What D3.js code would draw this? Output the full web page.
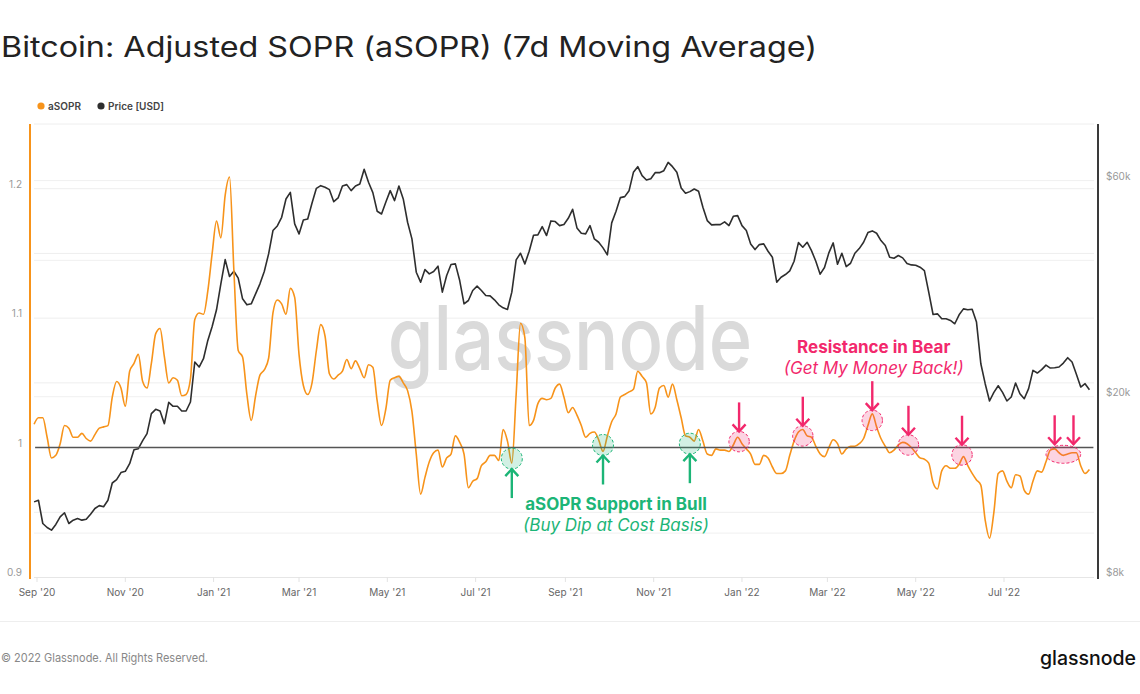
<!DOCTYPE html>
<html><head><meta charset="utf-8">
<script src="https://cdn.jsdelivr.net/npm/d3@7"></script>
<style>
html,body{margin:0;padding:0;background:#fff;}
svg{display:block;font-family:Inter,"Noto Sans",sans-serif;}
</style></head><body>
<svg id="chart" width="1140" height="694"></svg>
<script>
const dates = [
"2020-08-30","2020-09-02","2020-09-05","2020-09-08","2020-09-11","2020-09-14","2020-09-17","2020-09-20","2020-09-23","2020-09-26","2020-09-29",
"2020-10-02","2020-10-05","2020-10-08","2020-10-11","2020-10-14","2020-10-17","2020-10-20","2020-10-23","2020-10-26","2020-10-29",
"2020-11-01","2020-11-04","2020-11-07","2020-11-10","2020-11-13","2020-11-16","2020-11-19","2020-11-22","2020-11-25","2020-11-28",
"2020-12-01","2020-12-04","2020-12-07","2020-12-10","2020-12-13","2020-12-16","2020-12-19","2020-12-22","2020-12-25","2020-12-28","2020-12-31",
"2021-01-03","2021-01-06","2021-01-09","2021-01-12","2021-01-15","2021-01-18","2021-01-21","2021-01-24","2021-01-27","2021-01-30",
"2021-02-02","2021-02-05","2021-02-08","2021-02-11","2021-02-14","2021-02-17","2021-02-20","2021-02-23","2021-02-26",
"2021-03-01","2021-03-04","2021-03-07","2021-03-10","2021-03-13","2021-03-16","2021-03-19","2021-03-22","2021-03-25","2021-03-28","2021-03-31",
"2021-04-03","2021-04-06","2021-04-09","2021-04-12","2021-04-15","2021-04-18","2021-04-21","2021-04-24","2021-04-27","2021-04-30",
"2021-05-03","2021-05-06","2021-05-09","2021-05-12","2021-05-15","2021-05-18","2021-05-21","2021-05-24","2021-05-27","2021-05-30",
"2021-06-02","2021-06-05","2021-06-08","2021-06-11","2021-06-14","2021-06-17","2021-06-20","2021-06-23","2021-06-26","2021-06-29",
"2021-07-02","2021-07-05","2021-07-08","2021-07-11","2021-07-14","2021-07-17","2021-07-20","2021-07-23","2021-07-26","2021-07-29",
"2021-08-01","2021-08-04","2021-08-07","2021-08-10","2021-08-13","2021-08-16","2021-08-19","2021-08-22","2021-08-25","2021-08-28","2021-08-31",
"2021-09-03","2021-09-06","2021-09-09","2021-09-12","2021-09-15","2021-09-18","2021-09-21","2021-09-24","2021-09-27","2021-09-30",
"2021-10-03","2021-10-06","2021-10-09","2021-10-12","2021-10-15","2021-10-18","2021-10-21","2021-10-24","2021-10-27","2021-10-30",
"2021-11-02","2021-11-05","2021-11-08","2021-11-11","2021-11-14","2021-11-17","2021-11-20","2021-11-23","2021-11-26","2021-11-29",
"2021-12-02","2021-12-05","2021-12-08","2021-12-11","2021-12-14","2021-12-17","2021-12-20","2021-12-23","2021-12-26","2021-12-29",
"2022-01-01","2022-01-04","2022-01-07","2022-01-10","2022-01-13","2022-01-16","2022-01-19","2022-01-22","2022-01-25","2022-01-28","2022-01-31",
"2022-02-03","2022-02-06","2022-02-09","2022-02-12","2022-02-15","2022-02-18","2022-02-21","2022-02-24","2022-02-27",
"2022-03-02","2022-03-05","2022-03-08","2022-03-11","2022-03-14","2022-03-17","2022-03-20","2022-03-23","2022-03-26","2022-03-29",
"2022-04-01","2022-04-04","2022-04-07","2022-04-10","2022-04-13","2022-04-16","2022-04-19","2022-04-22","2022-04-25","2022-04-28",
"2022-05-01","2022-05-04","2022-05-07","2022-05-10","2022-05-13","2022-05-16","2022-05-19","2022-05-22","2022-05-25","2022-05-28","2022-05-31",
"2022-06-03","2022-06-06","2022-06-09","2022-06-12","2022-06-15","2022-06-18","2022-06-21","2022-06-24","2022-06-27","2022-06-30",
"2022-07-03","2022-07-06","2022-07-09","2022-07-12","2022-07-15","2022-07-18","2022-07-21","2022-07-24","2022-07-27","2022-07-30",
"2022-08-02","2022-08-05","2022-08-08","2022-08-11","2022-08-14","2022-08-17","2022-08-20","2022-08-23","2022-08-26","2022-08-29"
];
const asopr = [
1.018,1.023,1.023,1.008,0.992,0.994,1.003,1.017,1.015,1.008,
1.008,1.011,1.007,1.005,1.010,1.015,1.016,1.017,1.039,1.051,
1.046,1.032,1.059,1.065,1.072,1.051,1.046,1.065,1.088,1.092,
1.070,1.050,1.054,1.052,1.040,1.041,1.053,1.099,1.104,1.103,
1.121,1.150,1.175,1.162,1.195,1.209,1.137,1.075,1.070,1.041,
1.021,1.040,1.056,1.060,1.069,1.104,1.114,1.111,1.103,1.123,
1.116,1.072,1.048,1.041,1.050,1.075,1.095,1.086,1.057,1.053,
1.056,1.059,1.068,1.061,1.067,1.061,1.054,1.064,1.062,1.036,
1.017,1.030,1.052,1.054,1.055,1.050,1.044,1.028,0.995,0.964,
0.977,0.989,0.996,0.998,0.985,0.992,0.995,1.009,1.004,0.995,
0.969,0.974,0.976,0.986,0.989,0.994,0.994,0.990,1.014,1.005,
0.988,1.041,1.096,1.085,1.017,1.021,1.034,1.038,1.037,1.038,
1.046,1.049,1.039,1.027,1.031,1.025,1.017,1.008,1.011,1.012,
1.006,0.997,1.009,1.020,1.026,1.039,1.041,1.043,1.045,1.059,
1.055,1.050,1.026,1.031,1.046,1.048,1.039,1.049,1.037,1.023,
1.009,1.008,1.005,1.014,1.005,0.995,0.994,0.999,0.998,0.998,
0.997,1.002,1.008,1.003,0.999,0.995,0.987,0.987,0.994,0.992,
0.985,0.980,0.980,0.982,0.994,1.005,1.012,1.014,1.009,1.008,
1.001,0.995,0.993,1.000,1.006,1.003,0.995,0.999,1.001,1.001,
1.003,1.007,1.017,1.026,1.016,1.007,1.001,0.996,0.998,1.002,
1.004,1.003,1.000,0.996,0.992,0.991,0.988,0.973,0.968,0.982,
0.986,0.984,0.984,0.987,0.993,0.986,0.980,0.975,0.971,0.944,
0.930,0.950,0.980,0.982,0.974,0.969,0.979,0.978,0.967,0.964,
0.974,0.982,0.981,0.989,0.998,0.999,0.996,0.994,0.995,0.996,
0.996,0.986,0.980,0.983
];
const price = [
11720,11820,10500,10290,10150,10450,10860,11090,10500,10680,
10770,10680,10730,11010,11330,11500,11430,11820,12900,13120,
13600,13690,14230,15280,15360,16000,16580,18350,18760,18600,
17440,19440,19050,19050,18600,18600,19470,23860,23260,24260,
26630,28590,31110,35500,40160,36850,37850,36540,32900,31910,
32070,33740,35500,37790,41340,46540,47650,49790,54650,56530,
48140,45760,49130,49370,53550,57690,58480,57990,57300,53910,
54930,58380,58780,57010,58380,58980,63540,59480,56440,51330,
50640,53820,57010,54190,58380,54650,48550,44610,37660,35800,
38170,37350,37790,38830,34030,37040,39160,39290,36100,32070,
32620,34320,35080,34320,33460,33400,32730,31910,31420,31160,
34030,40100,41480,39290,41900,45450,45530,47490,45380,48880,
48720,47730,47980,49540,51860,47170,45910,45760,47730,44610,
43860,42620,41130,48390,51330,55030,55310,57010,62580,64410,
61530,60180,60590,62470,62470,63110,65830,64410,62580,57800,
56250,56730,57500,56820,52390,48960,47900,47980,47980,48630,
47730,50040,50220,47730,46540,43490,42260,43340,43490,41900,
40640,35800,36720,37220,37920,39820,43780,42760,43860,42040,
39820,37290,38570,41550,43710,39220,41480,38760,39420,41480,
42470,43860,46070,46460,45910,44230,43120,40640,40440,40990,
40510,39360,39090,39020,38630,37980,34030,30380,30480,29720,
29720,29470,28980,30330,31260,31110,31210,29230,23650,21370,
19570,20450,21150,20450,19570,19970,21440,20310,19800,20840,
22870,22560,22950,23490,23140,23180,23260,23730,24390,23860,
22410,21010,21370,20730
];
const leftTickValues = [0.9, 1.0, 1.1, 1.2];
const leftTickLabels = ["0.9", "1", "1.1", "1.2"];
const leftGridValues = [0.95, 1.05, 1.1, 1.15, 1.2, 1.25];
const rightTickValues = [8000, 20000, 60000];
const rightTickLabels = ["$8k", "$20k", "$60k"];
const rightGridValues = [10000, 20000, 40000, 60000];
const xTickDates = ["2020-09-01","2020-11-01","2021-01-01","2021-03-01","2021-05-01","2021-07-01","2021-09-01","2021-11-01","2022-01-01","2022-03-01","2022-05-01","2022-07-01"];
const xTickLabels = ["Sep '20","Nov '20","Jan '21","Mar '21","May '21","Jul '21","Sep '21","Nov '21","Jan '22","Mar '22","May '22","Jul '22"];
const supportDates = ["2021-07-26","2021-09-27","2021-11-26"];
const supportValues = [0.9915, 1.002, 1.003];
const resistDates = ["2021-12-30","2022-02-12","2022-04-01","2022-04-26","2022-06-02"];
const resistValues = [1.0046, 1.009, 1.021, 1.002, 0.9943];
const resistBandStart = "2022-07-30", resistBandEnd = "2022-08-23", resistBandValue = 0.9948;
const resistBandArrowDates = ["2022-08-05","2022-08-18"];

(function () {
const parse = d3.utcParse("%Y-%m-%d");
const D = dates.map(parse);
const svg = d3.select("#chart");
const W = 1140;
const pTop = 124, pBottom = 577, pLeft = 30, pRight = 1098;

const x = d3.scaleUtc().domain([parse("2020-09-01"), parse("2022-07-01")]).range([37, 1004]);
const yL = d3.scaleLinear().domain([0.9, 1.25]).range([pBottom, pTop]);
const yR = d3.scaleLog().domain([8000, 80000]).range([pBottom, pTop]);

const ORANGE = "#f7931a", DARK = "#2e2e2e", GREEN = "#1cb577", PINK = "#f2286c";

svg.append("text").attr("x", 1).attr("y", 57).attr("font-size", 28).attr("font-weight", 400)
  .attr("fill", "#222").attr("textLength", 816).attr("lengthAdjust", "spacingAndGlyphs")
  .text("Bitcoin: Adjusted SOPR (aSOPR) (7d Moving Average)");

const legend = [{c: ORANGE, t: "aSOPR", x: 41}, {c: DARK, t: "Price [USD]", x: 101}];
legend.forEach(l => {
  svg.append("circle").attr("cx", l.x).attr("cy", 106).attr("r", 3.6).attr("fill", l.c);
  svg.append("text").attr("x", l.x + 7).attr("y", 109.5).attr("font-size", 10).attr("font-weight", 600)
    .attr("fill", "#444").text(l.t);
});

const g = svg.append("g");
leftGridValues.forEach(v => g.append("line").attr("x1", 34).attr("x2", 1094)
  .attr("y1", yL(v)).attr("y2", yL(v)).attr("stroke", "#eeeeee").attr("stroke-width", 1));
rightGridValues.forEach(v => g.append("line").attr("x1", 34).attr("x2", 1094)
  .attr("y1", yR(v)).attr("y2", yR(v)).attr("stroke", "#f0f0f0").attr("stroke-width", 1));
g.append("line").attr("x1", 34).attr("x2", 1094).attr("y1", pBottom + 0.5).attr("y2", pBottom + 0.5)
  .attr("stroke", "#e6e6e6");
xTickDates.forEach((d, i) => {
  const xx = x(parse(d));
  g.append("line").attr("x1", xx).attr("x2", xx).attr("y1", pBottom).attr("y2", pBottom + 5).attr("stroke", "#e3e3e3");
  svg.append("text").attr("x", xx).attr("y", 596).attr("text-anchor", "middle").attr("font-size", 10)
    .attr("fill", "#666").text(xTickLabels[i]);
});

// watermark (scaled vertically around its baseline)
svg.append("g").attr("transform", "translate(570,370) scale(1,1.2)")
  .append("text").attr("x", 0).attr("y", 0).attr("text-anchor", "middle").attr("font-size", 74)
  .attr("font-weight", 500).attr("fill", "#dadada").text("glassnode");

svg.append("line").attr("x1", pLeft).attr("x2", pLeft).attr("y1", pTop).attr("y2", pBottom + 2)
  .attr("stroke", ORANGE).attr("stroke-width", 2);
svg.append("line").attr("x1", pRight).attr("x2", pRight).attr("y1", pTop).attr("y2", pBottom + 2)
  .attr("stroke", "#3a3a3a").attr("stroke-width", 2);
leftTickValues.forEach((v, i) => svg.append("text").attr("x", 22).attr("y", yL(v) - 1).attr("text-anchor", "end")
  .attr("font-size", 10).attr("fill", "#999").text(leftTickLabels[i]));
rightTickValues.forEach((v, i) => svg.append("text").attr("x", 1106).attr("y", yR(v) - 1)
  .attr("font-size", 10).attr("fill", "#999").text(rightTickLabels[i]));

const priceLine = d3.line().x((d, i) => x(D[i])).y(d => yR(d)).curve(d3.curveLinear);
svg.append("path").datum(price).attr("d", priceLine).attr("fill", "none").attr("stroke", DARK)
  .attr("stroke-width", 1.6).attr("stroke-linejoin", "round");
const aLine = d3.line().x((d, i) => x(D[i])).y(d => yL(d)).curve(d3.curveMonotoneX);
svg.append("path").datum(asopr).attr("d", aLine).attr("fill", "none").attr("stroke", ORANGE)
  .attr("stroke-width", 1.6).attr("stroke-linejoin", "round");

svg.append("line").attr("x1", x(D[0]) + 1).attr("x2", x(D[D.length - 1]) + 4)
  .attr("y1", yL(1)).attr("y2", yL(1)).attr("stroke", "#555").attr("stroke-width", 1.5);

function arrow(cx, tip, dir, color) {
  const len = 29, hw = 6.5, hh = 7;
  const s = dir === "down" ? -1 : 1;
  svg.append("line").attr("x1", cx).attr("x2", cx).attr("y1", tip).attr("y2", tip + s * len)
    .attr("stroke", color).attr("stroke-width", 2.4);
  svg.append("path").attr("d", `M${cx - hw},${tip + s * hh} L${cx},${tip} L${cx + hw},${tip + s * hh}`)
    .attr("fill", "none").attr("stroke", color).attr("stroke-width", 2.4).attr("stroke-linejoin", "miter");
}
supportDates.forEach((d, i) => {
  const cx = x(parse(d)), cy = yL(supportValues[i]), r = 10.5;
  svg.append("circle").attr("cx", cx).attr("cy", cy).attr("r", r).attr("fill", GREEN).attr("fill-opacity", 0.2)
    .attr("stroke", GREEN).attr("stroke-width", 1).attr("stroke-dasharray", "3,2");
  arrow(cx, cy + r, "up", GREEN);
});
const sx = x(parse("2021-10-06"));
svg.append("text").attr("x", sx).attr("y", yL(1) + 62.5).attr("text-anchor", "middle").attr("font-size", 17)
  .attr("font-weight", 700).attr("fill", GREEN).text("aSOPR Support in Bull");
svg.append("text").attr("x", sx).attr("y", yL(1) + 83.5).attr("text-anchor", "middle").attr("font-size", 17)
  .attr("font-style", "italic").attr("fill", GREEN).text("(Buy Dip at Cost Basis)");

resistDates.forEach((d, i) => {
  const cx = x(parse(d)), cy = yL(resistValues[i]), r = 10.2;
  svg.append("circle").attr("cx", cx).attr("cy", cy).attr("r", r).attr("fill", PINK).attr("fill-opacity", 0.2)
    .attr("stroke", PINK).attr("stroke-width", 1).attr("stroke-dasharray", "3,2");
  arrow(cx, cy - r, "down", PINK);
});
{
  const x0 = x(parse(resistBandStart)), x1 = x(parse(resistBandEnd)), cy = yL(resistBandValue);
  svg.append("ellipse").attr("cx", (x0 + x1) / 2).attr("cy", cy).attr("rx", (x1 - x0) / 2).attr("ry", 9)
    .attr("fill", PINK).attr("fill-opacity", 0.2).attr("stroke", PINK).attr("stroke-width", 1).attr("stroke-dasharray", "3,2");
  resistBandArrowDates.forEach(d => arrow(x(parse(d)), cy - 10, "down", PINK));
}
const rx = x(parse("2022-04-02"));
svg.append("text").attr("x", rx).attr("y", yL(1) - 95).attr("text-anchor", "middle").attr("font-size", 17)
  .attr("font-weight", 700).attr("fill", PINK).text("Resistance in Bear");
svg.append("text").attr("x", rx).attr("y", yL(1) - 74).attr("text-anchor", "middle").attr("font-size", 17)
  .attr("font-style", "italic").attr("fill", PINK).text("(Get My Money Back!)");

svg.append("line").attr("x1", 0).attr("x2", W).attr("y1", 621.5).attr("y2", 621.5).attr("stroke", "#eeeeee");
svg.append("text").attr("x", 1).attr("y", 662).attr("font-size", 12).attr("fill", "#888")
  .attr("textLength", 207).attr("lengthAdjust", "spacingAndGlyphs").text("© 2022 Glassnode. All Rights Reserved.");
svg.append("text").attr("x", 1136).attr("y", 665).attr("text-anchor", "end").attr("font-size", 19.5)
  .attr("font-weight", 500).attr("fill", "#111").text("glassnode");
})();
</script>
</body></html>
